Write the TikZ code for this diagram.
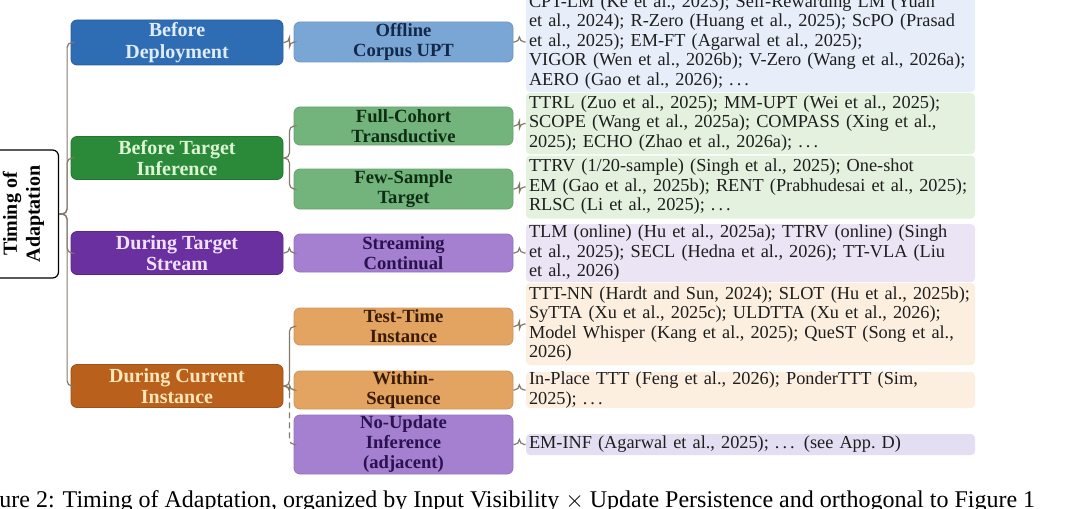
\documentclass[tikz,border=0pt]{standalone}
\usepackage{fontspec}
\setmainfont{Liberation Serif}
\definecolor{cBlue}{HTML}{2E6DB4}
\definecolor{cGreen}{HTML}{2A8A3A}
\definecolor{cPurple}{HTML}{6A30A0}
\definecolor{cOrange}{HTML}{B8601C}
\definecolor{tBlue}{HTML}{E0ECFF}
\definecolor{tGreen}{HTML}{DDF5D4}
\definecolor{tPurple}{HTML}{F0E2FF}
\definecolor{tOrange}{HTML}{FDE6B8}
\definecolor{mBlue}{HTML}{7AA6D6}
\definecolor{mGreen}{HTML}{72B47C}
\definecolor{mPurple}{HTML}{A57FD0}
\definecolor{mOrange}{HTML}{E3A462}
\definecolor{dBlue}{HTML}{14284A}
\definecolor{dGreen}{HTML}{0F2D14}
\definecolor{dPurple}{HTML}{2A1250}
\definecolor{dOrange}{HTML}{3A1C04}
\definecolor{lBlue}{HTML}{E7EEF9}
\definecolor{lGreen}{HTML}{E3F1DE}
\definecolor{lPurple}{HTML}{EBE4F4}
\definecolor{lOrange}{HTML}{FCEFDF}
\definecolor{lLav}{HTML}{E3DEF1}
\definecolor{connC}{HTML}{857A6A}
\definecolor{leafT}{HTML}{1E1E1E}
\newcommand{\mydots}{.\,.\,.}
\begin{document}
\begin{tikzpicture}[x=0.5pt,y=-0.5pt,
  rootbox/.style={draw=black,line width=0.6pt,rounded corners=3pt,fill=white,rotate=90,
    minimum width=64pt,minimum height=35pt,inner sep=0pt,align=center,
    font=\bfseries\fontsize{10}{11.5}\selectfont},
  lvlone/.style={rounded corners=3pt,minimum width=106pt,minimum height=21.5pt,inner sep=0pt,
    align=center,font=\bfseries\fontsize{10}{10.8}\selectfont},
  lvltwo/.style={rounded corners=3pt,minimum width=109.5pt,minimum height=19.5pt,inner sep=0pt,
    align=center,font=\bfseries\fontsize{9.3}{10}\selectfont},
  leafbox/.style={rounded corners=2pt,text width=221.5pt,inner xsep=1.5pt,inner ysep=0pt,
    align=left,text=leafT,font=\fontsize{9.15}{9.75}\selectfont},
  conn/.style={draw=connC,line width=0.6pt,rounded corners=2.5pt}
]
\useasboundingbox (0,0) rectangle (1080,508);

% root
\node[rootbox] (root) at (23.5,214) {Timing of\\Adaptation};

% level one
\node[lvlone,fill=cBlue,draw=cBlue!85!black,text=tBlue,minimum height=22.5pt] (bd) at (177,42.5) {Before\\Deployment};
\node[lvlone,fill=cGreen,draw=cGreen!85!black,text=tGreen] (bti) at (177,158) {Before Target\\Inference};
\node[lvlone,fill=cPurple,draw=cPurple!85!black,text=tPurple] (dts) at (177,253) {During Target\\Stream};
\node[lvlone,fill=cOrange,draw=cOrange!85!black,text=tOrange] (dci) at (177,386) {During Current\\Instance};

% level two
\node[lvltwo,fill=mBlue,draw=mBlue!90!black,text=dBlue,minimum height=20pt] (off) at (403.5,42) {Offline\\Corpus UPT};
\node[lvltwo,fill=mGreen,draw=mGreen!90!black,text=dGreen,minimum height=19pt] (fct) at (403.5,126) {Full-Cohort\\Transductive};
\node[lvltwo,fill=mGreen,draw=mGreen!90!black,text=dGreen,minimum height=20pt] (fst) at (403.5,189) {Few-Sample\\Target};
\node[lvltwo,fill=mPurple,draw=mPurple!90!black,text=dPurple,minimum height=19pt] (stc) at (403.5,253) {Streaming\\Continual};
\node[lvltwo,fill=mOrange,draw=mOrange!90!black,text=dOrange,minimum height=18.5pt] (tti) at (403.5,326.5) {Test-Time\\Instance};
\node[lvltwo,fill=mOrange,draw=mOrange!90!black,text=dOrange,minimum height=19pt] (wis) at (403.5,390) {Within-\\Sequence};
\node[lvltwo,fill=mPurple,draw=mPurple!90!black,text=dPurple,minimum height=29.5pt] (nui) at (403.5,444.5) {No-Update\\Inference\\(adjacent)};

% leaves
\node[leafbox,fill=lBlue,minimum height=50pt] (offL) at (750.5,42) {CPT-LM (Ke et al., 2023); Self-Rewarding LM (Yuan\\et al., 2024); R-Zero (Huang et al., 2025); ScPO (Prasad\\et al., 2025); EM-FT (Agarwal et al., 2025);\\VIGOR (Wen et al., 2026b); V-Zero (Wang et al., 2026a);\\AERO (Gao et al., 2026); \mydots};
\node[leafbox,fill=lGreen,minimum height=30.5pt] (fctL) at (750.5,123.5) {TTRL (Zuo et al., 2025); MM-UPT (Wei et al., 2025);\\SCOPE (Wang et al., 2025a); COMPASS (Xing et al.,\\2025); ECHO (Zhao et al., 2026a); \mydots};
\node[leafbox,fill=lGreen,minimum height=31.5pt] (fstL) at (750.5,187) {TTRV (1/20-sample) (Singh et al., 2025); One-shot\\EM (Gao et al., 2025b); RENT (Prabhudesai et al., 2025);\\RLSC (Li et al., 2025); \mydots};
\node[leafbox,fill=lPurple,minimum height=29pt] (stcL) at (750.5,253) {TLM (online) (Hu et al., 2025a); TTRV (online) (Singh\\et al., 2025); SECL (Hedna et al., 2026); TT-VLA (Liu\\et al., 2026)};
\node[leafbox,fill=lOrange,minimum height=41pt] (ttiL) at (750.5,324) {TTT-NN (Hardt and Sun, 2024); SLOT (Hu et al., 2025b);\\SyTTA (Xu et al., 2025c); ULDTTA (Xu et al., 2026);\\Model Whisper (Kang et al., 2025); QueST (Song et al.,\\2026)};
\node[leafbox,fill=lOrange,minimum height=18pt] (wisL) at (750.5,390) {In-Place TTT (Feng et al., 2026); PonderTTT (Sim,\\2025); \mydots};
\node[leafbox,fill=lLav,minimum height=10.5pt] (nuiL) at (750.5,444.5) {EM-INF (Agarwal et al., 2025); \mydots{} (see App.\ D)};

% trunk connectors
\foreach \c in {bd,bti,dts,dci}
  \draw[conn] (root.south) -- ++(8,0) |- (\c.west);
% level-two connectors
\draw[conn] (bd.east) -- ++(6,0) |- (off.west);
\draw[conn] (bti.east) -- ++(6,0) |- (fct.west);
\draw[conn] (bti.east) -- ++(6,0) |- (fst.west);
\draw[conn] (dts.east) -- ++(6,0) |- (stc.west);
\draw[conn] (dci.east) -- ++(6,0) |- (tti.west);
\draw[conn] (dci.east) -- ++(6,0) |- (wis.west);
\draw[conn,dashed,dash pattern=on 3pt off 2pt] (dci.east) -- ++(6,0) |- (nui.west);
% leaf connectors
\foreach \a/\b in {off/offL,fct/fctL,fst/fstL,stc/stcL,tti/ttiL,wis/wisL,nui/nuiL}
  \draw[conn] (\a.east) -- ++(6,0) |- (\b.west);

% caption
\node[anchor=base west,inner sep=0pt,font=\fontsize{12}{13}\selectfont] (cap) at (-1,507)
  {ure 2: Timing of Adaptation, organized by Input Visibility $\times$ Update Persistence and orthogonal to Figure 1};
\end{tikzpicture}
\end{document}
